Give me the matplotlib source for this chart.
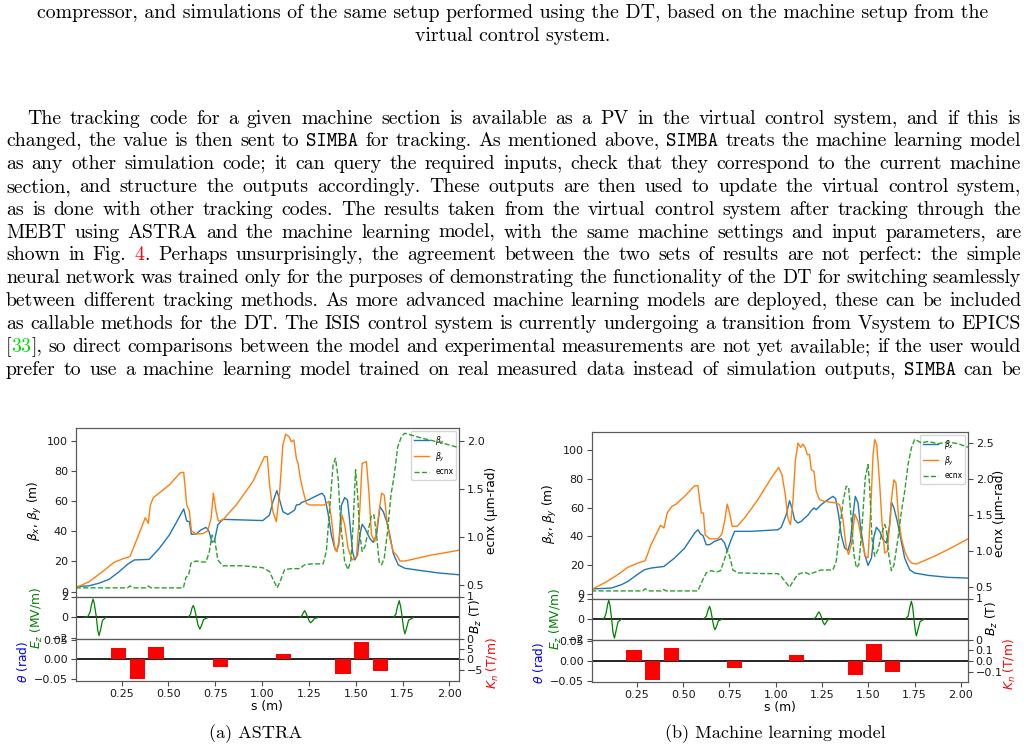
import re
import numpy as np
import matplotlib
matplotlib.use('Agg')
import matplotlib.pyplot as plt

# ---------------- data: (a) ASTRA ----------------
astra_bx_s = [0.006, 0.077, 0.130, 0.184, 0.237, 0.282, 0.318, 0.398, 0.452, 0.505, 0.550, 0.582, 0.598,
              0.612, 0.623, 0.648, 0.674, 0.701, 0.716, 0.733, 0.746, 0.764, 0.790, 1.004, 1.040, 1.058,
              1.079, 1.094, 1.111, 1.138, 1.156, 1.174, 1.183, 1.201, 1.210, 1.245, 1.299, 1.320, 1.334,
              1.352, 1.370, 1.388, 1.397, 1.409, 1.424, 1.441, 1.456, 1.468, 1.483, 1.495, 1.509, 1.522,
              1.534, 1.549, 1.575, 1.593, 1.611, 1.629, 1.647, 1.665, 1.682, 1.700, 1.727, 1.762, 1.834,
              1.941, 2.051]
astra_bx = [3.3, 3.9, 5.6, 8.2, 13.2, 18.1, 21.0, 21.4, 28.7, 37.5, 47.5, 54.8, 46.8,
            46.4, 38.0, 38.2, 40.9, 42.6, 40.2, 32.7, 33.6, 44.2, 47.9, 47.1, 50.8, 59.6,
            66.9, 60.7, 53.0, 51.1, 52.6, 54.1, 57.4, 57.8, 59.0, 60.7, 64.0, 65.2, 63.0,
            52.0, 37.5, 28.7, 26.9, 30.9, 57.4, 62.3, 60.7, 46.4, 26.5, 21.0, 24.3, 37.5,
            44.6, 42.0, 35.3, 32.7, 37.5, 56.3, 53.0, 46.4, 37.5, 25.4, 17.7, 15.5, 14.2,
            12.4, 11.2]

astra_by_s = [0.006, 0.077, 0.148, 0.211, 0.264, 0.295, 0.327, 0.377, 0.393, 0.404, 0.420, 0.505, 0.564,
              0.582, 0.598, 0.612, 0.623, 0.648, 0.683, 0.710, 0.728, 0.740, 0.755, 0.767, 0.790, 0.862,
              0.951, 1.013, 1.028, 1.040, 1.058, 1.076, 1.094, 1.111, 1.126, 1.144, 1.156, 1.170, 1.183,
              1.192, 1.204, 1.218, 1.236, 1.254, 1.334, 1.356, 1.370, 1.388, 1.400, 1.415, 1.427, 1.441,
              1.459, 1.481, 1.504, 1.522, 1.534, 1.557, 1.570, 1.584, 1.602, 1.620, 1.638, 1.652, 1.665,
              1.682, 1.700, 1.718, 1.736, 1.762, 1.905, 2.051]
astra_by = [2.6, 6.6, 13.2, 19.5, 22.1, 23.2, 33.1, 49.0, 45.3, 57.4, 62.3, 70.7, 78.8,
            79.0, 57.4, 53.5, 40.2, 38.2, 38.4, 40.2, 48.6, 65.2, 53.0, 46.8, 47.5, 57.4,
            72.9, 89.4, 89.4, 70.7, 53.0, 46.4, 66.2, 97.1, 104.2, 102.7, 99.3, 100.4, 88.3,
            85.0, 75.1, 67.3, 58.5, 57.4, 57.4, 59.8, 48.6, 28.7, 26.5, 37.5, 50.8, 44.2,
            28.7, 21.0, 23.2, 55.2, 85.0, 86.1, 66.2, 37.5, 33.1, 48.6, 65.2, 64.0, 48.6,
            35.3, 26.5, 24.3, 20.3, 20.3, 24.3, 27.4]

astra_ec_s = [0.006, 0.282, 0.295, 0.312, 0.380, 0.393, 0.407, 0.580, 0.594, 0.608, 0.621, 0.648, 0.674,
              0.701, 0.719, 0.733, 0.746, 0.764, 0.790, 0.898, 1.004, 1.040, 1.063, 1.081, 1.099, 1.120,
              1.156, 1.183, 1.201, 1.227, 1.263, 1.326, 1.343, 1.361, 1.379, 1.392, 1.406, 1.420, 1.441,
              1.459, 1.474, 1.486, 1.499, 1.509, 1.522, 1.534, 1.549, 1.566, 1.584, 1.597, 1.611, 1.625,
              1.638, 1.652, 1.670, 1.688, 1.706, 1.724, 1.745, 1.762, 1.798, 1.852, 1.959, 2.051]
astra_ec = [0.47, 0.47, 0.49, 0.47, 0.47, 0.49, 0.47, 0.47, 0.58, 0.60, 0.73, 0.75, 0.74,
            0.74, 0.85, 1.02, 0.99, 0.76, 0.70, 0.70, 0.68, 0.64, 0.54, 0.47, 0.55, 0.66,
            0.67, 0.67, 0.67, 0.71, 0.72, 0.72, 0.85, 1.30, 1.75, 1.82, 1.61, 1.13, 0.74,
            0.66, 0.76, 1.13, 1.70, 1.47, 1.02, 0.85, 0.90, 1.06, 1.23, 1.23, 1.02, 0.74,
            0.71, 0.78, 1.06, 1.44, 1.65, 1.94, 2.05, 2.08, 2.06, 2.03, 1.98, 1.93]

# cavity fields, one list per cavity
astra_ez_s = [[0.050, 0.070, 0.082, 0.091, 0.098, 0.105, 0.116, 0.123, 0.130, 0.138, 0.148, 0.165],
              [0.605, 0.618, 0.626, 0.633, 0.640, 0.650, 0.658, 0.668, 0.676, 0.688, 0.712],
              [1.200, 1.212, 1.220, 1.227, 1.235, 1.244, 1.252, 1.260, 1.268, 1.280, 1.300],
              [1.700, 1.714, 1.722, 1.732, 1.740, 1.748, 1.755, 1.762, 1.770, 1.782, 1.808]]
astra_ez = [[0, 0.08, 0.5, 1.3, 1.76, 1.3, 0.0, -1.2, -1.73, -1.2, -0.3, 0],
            [0, 0.3, 0.9, 1.14, 0.8, 0.0, -0.7, -1.11, -0.8, -0.2, 0],
            [0, 0.15, 0.45, 0.65, 0.4, 0.0, -0.35, -0.5, -0.35, -0.1, 0],
            [0, 0.3, 1.0, 1.6, 1.0, 0.0, -1.0, -1.55, -1.1, -0.25, 0]]

quad_s = [0.235, 0.335, 0.435, 0.778, 1.114, 1.431, 1.531, 1.632]
astra_kn = [5.5, -9.8, 6.0, -3.9, 2.6, -7.2, 8.6, -5.6]

# ---------------- data: (b) machine learning model ----------------
ml_bx_s = [0.003, 0.111, 0.165, 0.201, 0.255, 0.291, 0.327, 0.396, 0.453, 0.508, 0.562, 0.580, 0.594,
           0.607, 0.625, 0.643, 0.670, 0.706, 0.724, 0.738, 0.756, 0.778, 0.868, 1.012, 1.030, 1.057,
           1.075, 1.088, 1.102, 1.120, 1.138, 1.156, 1.174, 1.189, 1.207, 1.219, 1.246, 1.282, 1.309,
           1.324, 1.340, 1.354, 1.372, 1.390, 1.404, 1.417, 1.430, 1.445, 1.459, 1.481, 1.499, 1.517,
           1.531, 1.544, 1.562, 1.580, 1.598, 1.616, 1.625, 1.639, 1.657, 1.675, 1.697, 1.724, 1.751,
           1.823, 1.931, 2.039]
ml_bx = [3.3, 3.9, 6.2, 8.5, 13.6, 16.7, 17.9, 19.0, 24.8, 31.8, 42.3, 44.6, 41.6,
         40.7, 34.2, 34.2, 36.5, 38.3, 35.3, 29.9, 36.5, 43.5, 43.5, 44.6, 46.3, 55.1,
         64.9, 59.7, 51.6, 49.3, 50.5, 52.8, 54.7, 57.5, 59.8, 58.6, 62.1, 65.6, 67.9,
         66.3, 55.1, 41.1, 32.0, 30.0, 36.5, 54.0, 67.9, 63.3, 45.8, 27.4, 19.7, 24.8,
         39.9, 46.3, 43.5, 37.7, 35.3, 48.2, 64.0, 59.8, 50.5, 38.8, 24.8, 16.7, 14.4,
         12.8, 11.4, 10.9]

ml_by_s = [0.003, 0.075, 0.147, 0.201, 0.255, 0.295, 0.327, 0.378, 0.396, 0.414, 0.439, 0.462, 0.508,
           0.562, 0.580, 0.598, 0.610, 0.619, 0.643, 0.688, 0.709, 0.724, 0.738, 0.751, 0.765, 0.792,
           0.832, 0.904, 0.976, 1.016, 1.034, 1.052, 1.066, 1.080, 1.093, 1.106, 1.120, 1.135, 1.147,
           1.160, 1.171, 1.183, 1.192, 1.207, 1.219, 1.237, 1.264, 1.327, 1.345, 1.364, 1.381, 1.394,
           1.409, 1.427, 1.445, 1.466, 1.484, 1.499, 1.513, 1.526, 1.535, 1.546, 1.562, 1.574, 1.589,
           1.603, 1.616, 1.628, 1.639, 1.650, 1.664, 1.679, 1.697, 1.715, 1.733, 1.760, 1.859, 1.949,
           2.039]
ml_by = [2.8, 7.5, 13.3, 18.4, 21.4, 23.0, 34.2, 47.7, 45.8, 56.3, 60.9, 62.5, 67.9,
         75.3, 75.3, 56.3, 56.3, 41.1, 38.3, 38.3, 41.6, 50.5, 62.5, 56.3, 47.0, 47.0,
         52.8, 65.6, 80.7, 88.1, 83.0, 69.0, 52.8, 48.2, 64.4, 92.3, 105.1, 102.1, 104.4,
         101.7, 97.0, 97.0, 86.5, 85.3, 71.4, 65.6, 64.4, 63.3, 62.1, 51.6, 32.0, 27.4,
         34.4, 55.6, 50.5, 36.5, 26.2, 25.1, 57.5, 97.0, 107.5, 104.0, 76.1, 50.5, 28.4,
         29.6, 48.2, 69.0, 79.5, 77.2, 52.8, 38.8, 29.6, 24.4, 21.4, 20.7, 26.2, 32.0,
         38.3]

ml_ec_s = [0.003, 0.282, 0.295, 0.318, 0.381, 0.394, 0.408, 0.580, 0.598, 0.625, 0.652, 0.679, 0.702,
           0.720, 0.738, 0.751, 0.769, 0.796, 0.940, 1.012, 1.030, 1.057, 1.075, 1.093, 1.120, 1.156,
           1.183, 1.201, 1.246, 1.309, 1.327, 1.345, 1.364, 1.381, 1.394, 1.409, 1.423, 1.436, 1.449,
           1.466, 1.484, 1.499, 1.508, 1.520, 1.535, 1.553, 1.571, 1.589, 1.598, 1.611, 1.625, 1.639,
           1.661, 1.679, 1.697, 1.715, 1.733, 1.751, 1.787, 1.823, 1.877, 1.931, 1.985, 2.039]
ml_ec = [0.45, 0.45, 0.48, 0.45, 0.45, 0.47, 0.45, 0.45, 0.56, 0.70, 0.73, 0.71, 0.73,
         0.86, 1.01, 0.93, 0.74, 0.70, 0.69, 0.69, 0.65, 0.56, 0.50, 0.58, 0.68, 0.71,
         0.68, 0.70, 0.74, 0.74, 0.86, 1.28, 1.69, 1.90, 1.89, 1.42, 0.95, 0.77, 0.81,
         1.32, 2.02, 2.20, 1.88, 1.18, 0.93, 1.02, 1.23, 1.37, 1.30, 0.95, 0.73, 0.81,
         1.18, 1.55, 1.83, 2.20, 2.43, 2.55, 2.50, 2.52, 2.49, 2.51, 2.49, 2.44]

ml_ez_s = [[0.060, 0.075, 0.084, 0.092, 0.098, 0.105, 0.114, 0.121, 0.129, 0.137, 0.148, 0.168],
           [0.612, 0.626, 0.635, 0.643, 0.650, 0.658, 0.665, 0.672, 0.680, 0.690, 0.712],
           [1.205, 1.218, 1.226, 1.234, 1.242, 1.250, 1.257, 1.264, 1.271, 1.280, 1.298],
           [1.702, 1.716, 1.724, 1.733, 1.740, 1.747, 1.754, 1.760, 1.768, 1.780, 1.805]]
ml_ez = [[0, 0.1, 0.6, 1.4, 1.83, 1.3, 0.0, -1.3, -1.87, -1.2, -0.3, 0],
         [0, 0.3, 0.9, 1.24, 0.8, 0.0, -0.7, -1.05, -0.75, -0.2, 0],
         [0, 0.2, 0.5, 0.69, 0.45, 0.0, -0.35, -0.56, -0.4, -0.1, 0],
         [0, 0.3, 1.1, 1.73, 1.2, 0.0, -1.1, -1.65, -1.1, -0.25, 0]]

ml_kn = [0.100, -0.168, 0.112, -0.062, 0.050, -0.124, 0.150, -0.095]

s_ticks = [0.25, 0.50, 0.75, 1.00, 1.25, 1.50, 1.75, 2.00]

# ---------------- page text ----------------
caption_lines = ["compressor, and simulations of the same setup performed using the DT, based on the machine setup from the",
                 "virtual control system."]
body_lines = [
    "The tracking code for a given machine section is available as a PV in the virtual control system, and if this is",
    "changed, the value is then sent to {tt:SIMBA} for tracking. As mentioned above, {tt:SIMBA} treats the machine learning model",
    "as any other simulation code; it can query the required inputs, check that they correspond to the current machine",
    "section, and structure the outputs accordingly. These outputs are then used to update the virtual control system,",
    "as is done with other tracking codes. The results taken from the virtual control system after tracking through the",
    "MEBT using ASTRA and the machine learning model, with the same machine settings and input parameters, are",
    "shown in Fig. {red:4}. Perhaps unsurprisingly, the agreement between the two sets of results are not perfect: the simple",
    "neural network was trained only for the purposes of demonstrating the functionality of the DT for switching seamlessly",
    "between different tracking methods. As more advanced machine learning models are deployed, these can be included",
    "as callable methods for the DT. The ISIS control system is currently undergoing a transition from Vsystem to EPICS",
    "[{green:33}], so direct comparisons between the model and experimental measurements are not yet available; if the user would",
    "prefer to use a machine learning model trained on real measured data instead of simulation outputs, {tt:SIMBA} can be",
]

W, H = 1027, 749
fig = plt.figure(figsize=(W / 100, H / 100), dpi=100)
renderer = fig.canvas.get_renderer()
BODY_FS = 14.25
CAP_FS = 13.1
TICK_FS = 8.0
LAB_FS = 8.8


def rect(x0, x1, y0, y1):
    return [x0 / W, 1 - y1 / H, (x1 - x0) / W, (y1 - y0) / H]


def make_word(word, fs):
    parts = []
    for tag, tagged, plain in re.findall(r'\{(\w+):([^}]*)\}|([^{]+)', word):
        txt = tagged if tag else plain
        family = 'cmtt10' if tag == 'tt' else 'cmr10'
        color = {'red': '#ff0000', 'green': '#00dd00'}.get(tag, 'black')
        t = fig.text(0, 0, txt, family=family, color=color, fontsize=fs, va='baseline')
        parts.append((t, t.get_window_extent(renderer).width))
    return parts


def justify(line, x_left, x_right, y_base, fs=BODY_FS):
    words = [make_word(w, fs) for w in line.split(' ')]
    total = sum(w for word in words for _, w in word)
    gap = (x_right - x_left - total) / (len(words) - 1)
    x = x_left
    for word in words:
        for t, w in word:
            t.set_position((x / W, 1 - y_base / H))
            x += w
        x += gap


for i, line in enumerate(caption_lines):
    fig.text(513 / W, 1 - (18 + 23 * i) / H, line, family='cmr10', fontsize=BODY_FS,
             ha='center', va='baseline')

for i, line in enumerate(body_lines):
    justify(line, 27 if i == 0 else 6, 1021, 123.5 + 22.82 * i)


def style(ax):
    ax.tick_params(labelsize=TICK_FS, length=3.5, width=0.8, color='0.3', labelcolor='0.1', pad=2)
    for sp in ax.spines.values():
        sp.set_color('0.35')
        sp.set_linewidth(0.8)


def ylab(ax, text, color, x, y):
    ax.set_ylabel(text, color=color, fontsize=LAB_FS)
    ax.yaxis.set_label_coords(x / W, 1 - y / H, transform=fig.transFigure)
    ax.yaxis.label.set_verticalalignment('center')
    ax.yaxis.label.set_horizontalalignment('center')


def draw_panels(geo, bx_s, bx, by_s, by, ec_s, ec, ez_s, ez, kn, lims, kn_ticks, ec_ticks, labx,
                caption, cap_x):
    x0, x1, y0, y1, y2, y3 = geo
    ax = fig.add_axes(rect(x0, x1, y0, y1))
    axm = fig.add_axes(rect(x0, x1, y1, y2), sharex=ax)
    axb = fig.add_axes(rect(x0, x1, y2, y3), sharex=ax)

    # beta functions and emittance
    ax.plot(bx_s, bx, color='#1f77b4', lw=1.0, label=r'$\beta_x$')
    ax.plot(by_s, by, color='#ff7f0e', lw=1.0, label=r'$\beta_y$')
    ax.set_ylim(lims['beta'])
    ax.set_yticks([0, 20, 40, 60, 80, 100])
    axr = ax.twinx()
    axr.plot(ec_s, ec, '--', color='#2ca02c', lw=1.0, label='ecnx')
    axr.set_ylim(lims['ec'])
    axr.set_yticks(ec_ticks)
    h1, l1 = ax.get_legend_handles_labels()
    h2, l2 = axr.get_legend_handles_labels()
    ax.legend(h1 + h2, l1 + l2, loc='upper right', fontsize=5.5, borderaxespad=0.35)
    ax.tick_params(labelbottom=False)

    # cavity fields
    for s, e in zip(ez_s, ez):
        axm.plot(s, e, color='green', lw=0.9, zorder=3)
    axm.axhline(0, color='black', lw=1.2, zorder=2)
    axm.set_ylim(-2.05, 2.0)
    axm.set_yticks([-2, 0, 2])
    axm.tick_params(labelbottom=False)
    axmr = axm.twinx()
    axmr.set_ylim(0, 1)
    axmr.set_yticks([0, 1])

    # quadrupoles
    axb.axhline(0, color='black', lw=1.2)
    axb.set_ylim(lims['theta'])
    axb.set_yticks([-0.05, 0.0, 0.05])
    axbr = axb.twinx()
    axbr.bar(quad_s, kn, width=0.082, color='red')
    axbr.set_ylim(lims['kn'])
    axbr.set_yticks(kn_ticks)
    axb.set_xlim(lims['s'])
    axb.set_xticks(s_ticks)
    axb.set_xlabel('s (m)', fontsize=LAB_FS, labelpad=1)

    for a in (ax, axr, axm, axmr, axb, axbr):
        style(a)

    ylab(ax, r'$\beta_x$, $\beta_y$ (m)', 'black', labx[0], (y0 + y1) / 2 - 2)
    ylab(axr, 'ecnx (μm-rad)', 'black', labx[1], (y0 + y1) / 2 - 2)
    ylab(axm, r'$E_z$ (MV/m)', 'green', labx[2], (y1 + y2) / 2)
    ylab(axmr, r'$B_z$ (T)', 'black', labx[3], (y1 + y2) / 2 - 1)
    ylab(axb, r'$\theta$ (rad)', 'blue', labx[4], (y2 + y3) / 2 + 2)
    ylab(axbr, r'$K_n$ (T/m)', 'red', labx[5], (y2 + y3) / 2 + 3)

    fig.text(cap_x / W, 1 - 738 / H, caption, family='cmr10', fontsize=CAP_FS,
             ha='center', va='baseline')


draw_panels((75.6, 459.0, 428.0, 596.5, 639.0, 681.0),
            astra_bx_s, astra_bx, astra_by_s, astra_by, astra_ec_s, astra_ec, astra_ez_s, astra_ez, astra_kn,
            {'beta': (-3.2, 108.4), 'ec': (0.38, 2.135), 'theta': (-0.0562, 0.0526),
             'kn': (-10.6, 9.95), 's': (0.005, 2.051)},
            [-5, 0, 5], [0.5, 1.0, 1.5, 2.0], (35, 491, 37, 476, 23, 493), '(a) ASTRA', 255.5)

draw_panels((591.5, 968.0, 432.0, 598.5, 640.0, 682.0),
            ml_bx_s, ml_bx, ml_by_s, ml_by, ml_ec_s, ml_ec, ml_ez_s, ml_ez, ml_kn,
            {'beta': (-3.35, 112.8), 'ec': (0.345, 2.651), 'theta': (-0.0538, 0.0538),
             'kn': (-0.186, 0.186), 's': (0.005, 2.039)},
            [-0.1, 0.0, 0.1], [0.5, 1.0, 1.5, 2.0, 2.5], (550, 1000, 556, 992, 538, 1010),
            '(b) Machine learning model', 775)

fig.savefig('out.png', dpi=100)
